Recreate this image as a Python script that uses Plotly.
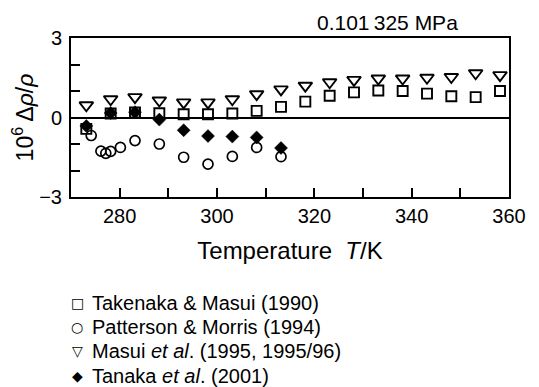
import plotly.graph_objects as go

# ---- data ----
T_takenaka = [273.15, 278.15, 283.15, 288.15, 293.15, 298.15, 303.15, 308.15, 313.15,
              318.15, 323.15, 328.15, 333.15, 338.15, 343.15, 348.15, 353.15, 358.15]
d_takenaka = [-0.43, 0.15, 0.19, 0.16, 0.12, 0.12, 0.15, 0.25, 0.40,
              0.60, 0.82, 0.95, 1.02, 1.00, 0.90, 0.80, 0.77, 1.00]

T_patterson = [274.15, 276.15, 277.15, 278.15, 280.15, 283.15, 288.15, 293.15, 298.15,
               303.15, 308.15, 313.15]
d_patterson = [-0.68, -1.27, -1.35, -1.28, -1.13, -0.87, -1.00, -1.50, -1.76,
               -1.47, -1.13, -1.48]

T_masui = [273.15, 278.15, 283.15, 288.15, 293.15, 298.15, 303.15, 308.15, 313.15,
           318.15, 323.15, 328.15, 333.15, 338.15, 343.15, 348.15, 353.15, 358.15]
d_masui = [0.46, 0.69, 0.77, 0.64, 0.57, 0.57, 0.69, 0.88, 1.06,
           1.20, 1.33, 1.42, 1.47, 1.47, 1.50, 1.53, 1.67, 1.60]

T_tanaka = [273.15, 278.15, 283.15, 288.15, 293.15, 298.15, 303.15, 308.15, 313.15]
d_tanaka = [-0.32, 0.17, 0.20, -0.08, -0.48, -0.70, -0.72, -0.75, -1.15]

series_names = ["Takenaka & Masui (1990)",
                "Patterson & Morris (1994)",
                "Masui <i>et al</i>. (1995, 1995/96)",
                "Tanaka <i>et al</i>. (2001)"]
legend_glyphs = ["\u25a1", "\u25cb", "\u25bd", "\u25c6"]

x_ticks = [280, 300, 320, 340, 360]
x_minor = [290, 310, 330, 350]
y_ticks = [-3, 0, 3]
y_minor = [-2, -1, 1, 2]

FONT = "Liberation Sans, Arial, Helvetica, sans-serif"

fig = go.Figure()
fig.add_trace(go.Scatter(x=T_takenaka, y=d_takenaka, mode="markers",
                         name=series_names[0],
                         marker=dict(symbol="square-open", size=10, color="black",
                                     line=dict(width=1.9, color="black"))))
fig.add_trace(go.Scatter(x=T_patterson, y=d_patterson, mode="markers",
                         name=series_names[1],
                         marker=dict(symbol="circle-open", size=10, color="black",
                                     line=dict(width=1.7, color="black"))))
fig.add_trace(go.Scatter(x=T_masui, y=d_masui, mode="markers",
                         name=series_names[2],
                         marker=dict(symbol="triangle-down-open", size=12, color="black",
                                     line=dict(width=1.9, color="black"))))
fig.add_trace(go.Scatter(x=T_tanaka, y=d_tanaka, mode="markers",
                         name=series_names[3],
                         marker=dict(symbol="diamond", size=10, color="black",
                                     line=dict(width=0.5, color="black"))))

# legend drawn as text lines below the plot (as in the reference)
legend_rows_y = [-0.667, -0.818, -0.969, -1.126]
annotations = [dict(text="0.101\u2009325 MPa", x=0.888, y=1.10,
                    xref="paper", yref="paper", xanchor="right", yanchor="middle",
                    showarrow=False, font=dict(size=21, family=FONT, color="black"))]
for glyph, name, yy in zip(legend_glyphs, series_names, legend_rows_y):
    annotations.append(dict(text=glyph, x=0.0137, y=yy, xref="paper", yref="paper",
                            xanchor="center", yanchor="middle", showarrow=False,
                            font=dict(size=14, family="DejaVu Sans", color="black")))
    annotations.append(dict(text=name, x=0.044, y=yy, xref="paper", yref="paper",
                            xanchor="left", yanchor="middle", showarrow=False,
                            font=dict(size=20, family=FONT, color="black")))

fig.update_layout(
    width=531, height=379,
    margin=dict(l=63, r=30, t=30, b=190, autoexpand=False),
    paper_bgcolor="white", plot_bgcolor="white",
    font=dict(family=FONT, color="black", size=20),
    showlegend=False,
    annotations=annotations,
)

fig.update_xaxes(
    range=[270, 360], tickmode="array", tickvals=x_ticks,
    ticktext=[str(v) for v in x_ticks],
    ticks="inside", ticklen=9, tickwidth=1.5, tickcolor="black",
    minor=dict(tickmode="array", tickvals=x_minor, ticks="inside", ticklen=9,
               tickwidth=1.5, tickcolor="black"),
    showline=True, linecolor="black", linewidth=2, mirror=True,
    showgrid=False, zeroline=False, automargin=False,
    tickfont=dict(size=20, family=FONT), ticklabelstandoff=0,
    title=dict(text="Temperature  <i>T</i>/K", font=dict(size=24, family=FONT), standoff=16),
)
fig.update_yaxes(
    range=[-3, 3], tickmode="array", tickvals=y_ticks,
    ticktext=["\u22123", "0", "3"],
    ticks="inside", ticklen=9, tickwidth=1.5, tickcolor="black",
    minor=dict(tickmode="array", tickvals=y_minor, ticks="inside", ticklen=9,
               tickwidth=1.5, tickcolor="black"),
    showline=True, linecolor="black", linewidth=2, mirror=True,
    showgrid=False, zeroline=True, zerolinecolor="black", zerolinewidth=2,
    automargin=False,
    tickfont=dict(size=20, family=FONT), ticklabelstandoff=3,
    title=dict(text="10<sup>6</sup> \u0394<i>\u03c1</i>/<i>\u03c1</i>",
               font=dict(size=23, family=FONT), standoff=0),
)

fig.write_html("out.html")
